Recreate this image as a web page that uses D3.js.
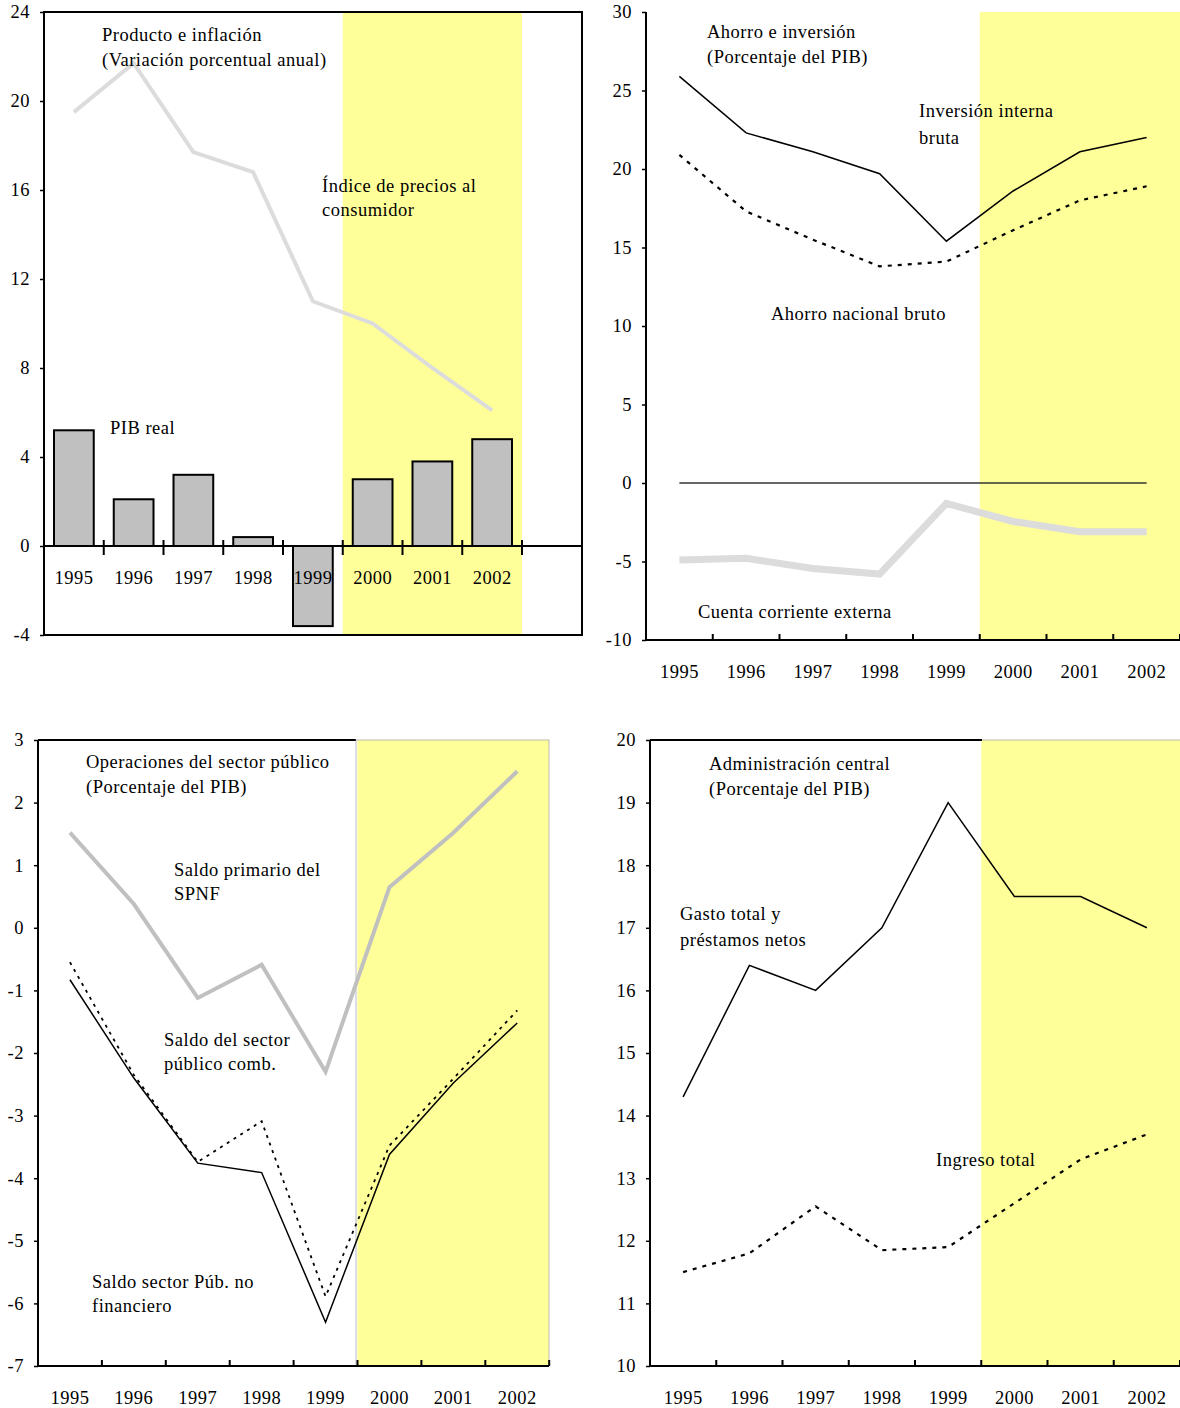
<!DOCTYPE html>
<html>
<head>
<meta charset="utf-8">
<script src="https://cdn.jsdelivr.net/npm/d3@7"></script>
<style>
  body { margin: 0; background: #fff; }
  text { font-family: "Liberation Serif", "DejaVu Serif", "Times New Roman", Times, serif; font-size: 18.5px; letter-spacing: 0.5px; fill: #000; }
</style>
</head>
<body>
<div id="chart"></div>
<script>
// Years shown on every panel (2000-2002 are projections, yellow band)
const years = ['1995', '1996', '1997', '1998', '1999', '2000', '2001', '2002'];

// Panel 1: Producto e inflación
const pibReal = [5.2, 2.1, 3.2, 0.4, -3.6, 3.0, 3.8, 4.8];
const ipc = [19.5, 21.7, 17.7, 16.8, 11.0, 10.0, 8.0, 6.1];
const ticks1 = [-4, 0, 4, 8, 12, 16, 20, 24];

// Panel 2: Ahorro e inversión
const inversion = [25.9, 22.3, 21.1, 19.7, 15.4, 18.6, 21.1, 22.0];
const ahorro = [20.9, 17.3, 15.5, 13.8, 14.1, 16.1, 18.0, 18.9];
const cuentaCorriente = [-4.9, -4.8, -5.45, -5.8, -1.3, -2.45, -3.1, -3.1];
const cero = [0, 0, 0, 0, 0, 0, 0, 0];
const ticks2 = [-10, -5, 0, 5, 10, 15, 20, 25, 30];

// Panel 3: Operaciones del sector público
const saldoPrimario = [1.52, 0.38, -1.12, -0.59, -2.3, 0.65, 1.52, 2.5];
const saldoComb = [-0.55, -2.35, -3.74, -3.09, -5.89, -3.48, -2.41, -1.32];
const saldoNoFin = [-0.83, -2.4, -3.76, -3.91, -6.3, -3.62, -2.48, -1.52];
const ticks3 = [-7, -6, -5, -4, -3, -2, -1, 0, 1, 2, 3];

// Panel 4: Administración central
const gasto = [14.3, 16.4, 16.0, 17.0, 19.0, 17.5, 17.5, 17.0];
const ingreso = [11.5, 11.8, 12.55, 11.85, 11.9, 12.6, 13.3, 13.7];
const ticks4 = [10, 11, 12, 13, 14, 15, 16, 17, 18, 19, 20];

const FONT = '"Liberation Serif", "DejaVu Serif", "Times New Roman", Times, serif';

const svg = d3.select('#chart')
    .append('svg')
    .attr('width', 1180)
    .attr('height', 1408)
    .attr('font-family', FONT);

// Sets up one panel: scales, yellow band, left axis, returns helpers
function makePanel(p)
{
    const x = d3.scaleBand()
        .domain(years)
        .range([p.left, p.left + p.slot * years.length])
        .paddingInner(0).paddingOuter(0);
    const y = d3.scaleLinear()
        .domain([p.ticks[0], p.ticks[p.ticks.length - 1]])
        .range([p.bottom, p.top]);
    const g = svg.append('g');
    const cx = i => x(years[i]) + x.bandwidth() / 2;

    // projection band
    g.append('rect')
        .attr('x', x('2000'))
        .attr('y', p.top)
        .attr('width', p.bandRight - x('2000'))
        .attr('height', p.bottom - p.top)
        .attr('fill', '#ffff99');

    const yAxis = d3.axisLeft(y)
        .tickValues(p.ticks)
        .tickSize(4)
        .tickPadding(10)
        .tickFormat(d => String(d));
    const ya = g.append('g')
        .attr('transform', `translate(${p.left},0)`)
        .call(yAxis)
        .attr('font-family', FONT)
        .attr('font-size', 18.5);
    ya.select('.domain').remove();
    ya.selectAll('line').attr('stroke', '#000').attr('stroke-width', 1.5);
    ya.selectAll('text').attr('fill', '#000');

    return { x, y, g, cx };
}

function drawLine(P, values, style)
{
    const line = d3.line()
        .x((d, i) => P.cx(i))
        .y(d => P.y(d));
    P.g.append('path')
        .datum(values)
        .attr('d', line)
        .attr('fill', 'none')
        .attr('stroke', style.color)
        .attr('stroke-width', style.width)
        .attr('stroke-dasharray', style.dash || null)
        .attr('stroke-linejoin', 'miter');
}

function addText(P, x, y, lines)
{
    lines.forEach((t, i) => {
        P.g.append('text')
            .attr('x', x)
            .attr('y', y + i * 25)
            .text(t);
    });
}

// Bottom axis: line, boundary ticks, year labels at slot centres
function bottomAxis(P, yPos, left, right, labelY, tickUp, tickDown)
{
    P.g.append('line')
        .attr('x1', left).attr('x2', right)
        .attr('y1', yPos).attr('y2', yPos)
        .attr('stroke', '#000').attr('stroke-width', 2);
    years.forEach((yr, i) => {
        const bx = P.x(yr) + P.x.bandwidth();
        P.g.append('line')
            .attr('x1', bx).attr('x2', bx)
            .attr('y1', yPos - tickUp).attr('y2', yPos + tickDown)
            .attr('stroke', '#000').attr('stroke-width', 2);
        P.g.append('text')
            .attr('x', P.cx(i))
            .attr('y', labelY)
            .attr('text-anchor', 'middle')
            .text(yr);
    });
}

// ---------- Panel 1 ----------
{
    const p = { left: 44, slot: 59.75, top: 12, bottom: 635, ticks: ticks1, bandRight: 522 };
    const P = makePanel(p);
    const zero = P.y(0);

    P.g.append('g').selectAll('rect')
        .data(pibReal)
        .enter()
        .append('rect')
        .attr('x', (d, i) => P.x(years[i]) + 10)
        .attr('width', P.x.bandwidth() - 20)
        .attr('y', d => Math.min(P.y(d), zero))
        .attr('height', d => Math.abs(P.y(d) - zero))
        .attr('fill', '#c0c0c0')
        .attr('stroke', '#000')
        .attr('stroke-width', 2);

    drawLine(P, ipc, { color: '#dcdcdc', width: 4 });

    bottomAxis(P, zero, 44, 582, 584, 6, 9);

    // plot frame
    P.g.append('rect')
        .attr('x', 44).attr('y', 12)
        .attr('width', 538).attr('height', 623)
        .attr('fill', 'none')
        .attr('stroke', '#000').attr('stroke-width', 2);

    addText(P, 102, 41, ['Producto e inflación', '(Variación porcentual anual)']);
    P.g.append('text').attr('x', 322).attr('y', 192).text('Índice de precios al');
    P.g.append('text').attr('x', 322).attr('y', 216).text('consumidor');
    addText(P, 110, 434, ['PIB real']);
}

// ---------- Panel 2 ----------
{
    const p = { left: 646, slot: 66.75, top: 12, bottom: 640, ticks: ticks2, bandRight: 1180 };
    const P = makePanel(p);

    P.g.append('line')
        .attr('x1', 646).attr('x2', 646)
        .attr('y1', 12).attr('y2', 640)
        .attr('stroke', '#000').attr('stroke-width', 2);
    bottomAxis(P, 640, 646, 1180, 678, 6, 0);

    drawLine(P, cero, { color: '#333', width: 1.3 });
    drawLine(P, cuentaCorriente, { color: '#dcdcdc', width: 7 });
    drawLine(P, inversion, { color: '#000', width: 1.5 });
    drawLine(P, ahorro, { color: '#000', width: 2.2, dash: '4,6' });

    addText(P, 707, 38, ['Ahorro e inversión', '(Porcentaje del PIB)']);
    P.g.append('text').attr('x', 919).attr('y', 117).text('Inversión interna');
    P.g.append('text').attr('x', 919).attr('y', 144).text('bruta');
    addText(P, 771, 320, ['Ahorro nacional bruto']);
    addText(P, 698, 618, ['Cuenta corriente externa']);
}

// ---------- Panel 3 ----------
{
    const p = { left: 38, slot: 63.9, top: 740, bottom: 1366, ticks: ticks3, bandRight: 549 };
    const P = makePanel(p);

    P.g.append('line')
        .attr('x1', 38).attr('x2', 356)
        .attr('y1', 740).attr('y2', 740)
        .attr('stroke', '#000').attr('stroke-width', 2);
    P.g.append('rect')
        .attr('x', 356).attr('y', 740)
        .attr('width', 193).attr('height', 626)
        .attr('fill', 'none')
        .attr('stroke', '#aaa').attr('stroke-width', 0.8);
    P.g.append('line')
        .attr('x1', 38).attr('x2', 38)
        .attr('y1', 740).attr('y2', 1366)
        .attr('stroke', '#000').attr('stroke-width', 2);
    bottomAxis(P, 1366, 38, 549, 1404, 6, 0);

    drawLine(P, saldoPrimario, { color: '#c0c0c0', width: 4 });
    drawLine(P, saldoNoFin, { color: '#000', width: 1.5 });
    drawLine(P, saldoComb, { color: '#000', width: 1.8, dash: '3,5' });

    addText(P, 86, 768, ['Operaciones del sector público', '(Porcentaje del PIB)']);
    P.g.append('text').attr('x', 174).attr('y', 876).text('Saldo primario del');
    P.g.append('text').attr('x', 174).attr('y', 900).text('SPNF');
    P.g.append('text').attr('x', 164).attr('y', 1046).text('Saldo del sector');
    P.g.append('text').attr('x', 164).attr('y', 1070).text('público comb.');
    P.g.append('text').attr('x', 92).attr('y', 1288).text('Saldo sector Púb. no');
    P.g.append('text').attr('x', 92).attr('y', 1312).text('financiero');
}

// ---------- Panel 4 ----------
{
    const p = { left: 650, slot: 66.25, top: 740, bottom: 1366, ticks: ticks4, bandRight: 1180 };
    const P = makePanel(p);

    P.g.append('line')
        .attr('x1', 650).attr('x2', 982)
        .attr('y1', 740).attr('y2', 740)
        .attr('stroke', '#000').attr('stroke-width', 2);
    P.g.append('line')
        .attr('x1', 982).attr('x2', 1180)
        .attr('y1', 740).attr('y2', 740)
        .attr('stroke', '#aaa').attr('stroke-width', 0.8);
    P.g.append('line')
        .attr('x1', 650).attr('x2', 650)
        .attr('y1', 740).attr('y2', 1366)
        .attr('stroke', '#000').attr('stroke-width', 2);
    bottomAxis(P, 1366, 650, 1180, 1404, 6, 0);

    drawLine(P, gasto, { color: '#000', width: 1.5 });
    drawLine(P, ingreso, { color: '#000', width: 2.2, dash: '4,6' });

    addText(P, 709, 770, ['Administración central', '(Porcentaje del PIB)']);
    P.g.append('text').attr('x', 680).attr('y', 920).text('Gasto total y');
    P.g.append('text').attr('x', 680).attr('y', 946).text('préstamos netos');
    addText(P, 936, 1166, ['Ingreso total']);
}
</script>
</body>
</html>
